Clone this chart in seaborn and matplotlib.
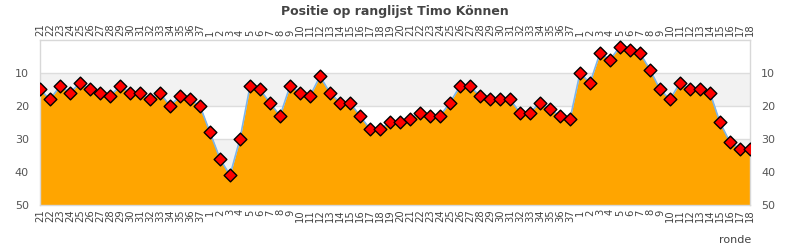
import matplotlib
matplotlib.use("Agg")
import matplotlib.pyplot as plt
import seaborn as sns
import pandas as pd

rounds = ["21", "22", "23", "24", "25", "26", "27", "28", "29", "30", "31", "32", "33", "34", "35", "36", "37",
          "1", "2", "3", "4", "5", "6", "7", "8", "9", "10", "11", "12", "13", "14", "15", "16", "17", "18", "19",
          "20", "21", "22", "23", "24", "25", "26", "27", "28", "29", "30", "31", "32", "33", "34", "35", "36", "37",
          "1", "2", "3", "4", "5", "6", "7", "8", "9", "10", "11", "12", "13", "14", "15", "16", "17", "18"]
positions = [15, 18, 14, 16, 13, 15, 16, 17, 14, 16, 16, 18, 16, 20, 17, 18, 20, 28, 36, 41, 30, 14, 15, 19, 23,
             14, 16, 17, 11, 16, 19, 19, 23, 27, 27, 25, 25, 24, 22, 23, 23, 19, 14, 14, 17, 18, 18, 18, 22, 22,
             19, 21, 23, 24, 10, 13, 4, 6, 2, 3, 4, 9, 15, 18, 13, 15, 15, 16, 25, 31, 33, 33]
y_ticks = [10, 20, 30, 40, 50]

df = pd.DataFrame({"idx": range(len(positions)), "pos": positions})

sns.set_style("white")
plt.rcParams["font.family"] = ["DejaVu Sans"]

fig = plt.figure(figsize=(7.9, 2.5), dpi=100)
ax = fig.add_axes([40 / 790, 45 / 250, 710 / 790, 165 / 250])

# alternating bands
for lo, hi in [(10, 20), (30, 40)]:
    ax.axhspan(lo, hi, color="#f2f2f2", zorder=0, lw=0)
for t in [10, 20, 30, 40]:
    ax.axhline(t, color="#dddddd", lw=1, zorder=0.5)

ax.fill_between(df["idx"], df["pos"], 50, color="#FFA500", lw=0, zorder=1)
sns.lineplot(data=df, x="idx", y="pos", ax=ax, color="#7cb5ec", lw=1.2, zorder=2)
sns.scatterplot(data=df, x="idx", y="pos", ax=ax, marker="D", s=42, color="#ff0000",
                edgecolor="black", linewidth=1, zorder=3)

ax.set_xlim(0, len(positions) - 1)
ax.set_ylim(50, 0)
ax.set_xticks(range(len(rounds)))
ax.set_xticklabels(rounds, rotation=90, fontsize=7.2, color="#444444")
ax.set_yticks(y_ticks)
ax.set_yticklabels([str(v) for v in y_ticks], fontsize=8, color="#555555")
ax.tick_params(axis="x", length=0, pad=3, labeltop=True, labelbottom=True, top=False, bottom=False)
ax.tick_params(axis="y", length=0, pad=8, labelleft=True, labelright=True, left=False, right=False)
ax.set_xlabel("")
ax.set_ylabel("")
for sp in ax.spines.values():
    sp.set_color("#d8d8d8")
    sp.set_linewidth(1)
    sp.set_visible(True)

fig.text(395 / 790, 1 - 11 / 250, "Positie op ranglijst Timo Können", ha="center", va="center",
         fontsize=9, fontweight="bold", color="#444444")
fig.text(735 / 790, 1 - 240 / 250, "ronde", ha="center", va="center", fontsize=8, color="#444444")

fig.savefig("out.png", dpi=100)
